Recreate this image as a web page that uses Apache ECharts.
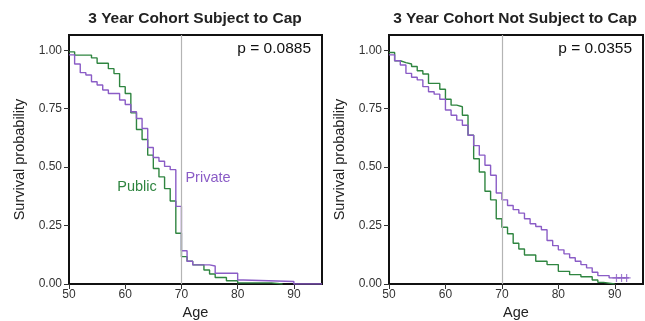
<!DOCTYPE html>
<html lang="en">
  <head>
    <meta charset="utf-8" />
    <title>3 Year Cohort survival</title>
    <script src="https://cdn.jsdelivr.net/npm/echarts@6/dist/echarts.min.js"></script>
  </head>
  <style>
    * {
      margin: 0;
      padding: 0;
    }

    body {
      width: 645px;
      height: 321px;
      background: #fff;
    }

    #main {
      width: 645px;
      height: 321px;
    }
  </style>
  <body>
    <div id="main"></div>
    <script>
      // subject to cap
      const capPublicAge = [50, 51, 54, 55, 57, 58, 59, 60, 61, 62, 63, 64, 65, 66, 67, 68, 69, 70, 71, 72, 74, 75, 76, 78, 80, 86];
      const capPublicSurv = [0.993, 0.979, 0.967, 0.944, 0.921, 0.9, 0.844, 0.815, 0.732, 0.661, 0.618, 0.551, 0.494, 0.458, 0.408, 0.355, 0.217, 0.117, 0.097, 0.082, 0.06, 0.043, 0.028, 0.014, 0.005, 0];
      const capPublicEnd = 88;
      const capPrivateAge = [50, 51, 52, 53, 54, 55, 56, 57, 59, 60, 61, 62, 63, 64, 65, 66, 67, 68, 69, 70, 71, 72, 75, 76, 80, 81, 90];
      const capPrivateSurv = [0.98, 0.941, 0.904, 0.894, 0.865, 0.851, 0.83, 0.815, 0.787, 0.768, 0.737, 0.708, 0.665, 0.584, 0.541, 0.525, 0.503, 0.489, 0.332, 0.142, 0.097, 0.082, 0.077, 0.046, 0.017, 0.011, 0];
      const capPrivateEnd = 95;

      // not subject to cap
      const noCapPublicAge = [50, 51, 52, 53, 54, 55, 56, 57, 59, 60, 61, 62, 63, 64, 65, 66, 67, 68, 69, 70, 71, 72, 73, 74, 76, 78, 80, 82, 84, 86, 87, 88];
      const noCapPublicSurv = [0.99, 0.955, 0.947, 0.941, 0.93, 0.912, 0.898, 0.858, 0.833, 0.79, 0.765, 0.758, 0.722, 0.636, 0.536, 0.479, 0.397, 0.36, 0.279, 0.243, 0.215, 0.174, 0.15, 0.124, 0.097, 0.083, 0.054, 0.04, 0.031, 0.017, 0.007, 0];
      const noCapPublicEnd = 90;
      const noCapPrivateAge = [50, 51, 52, 53, 54, 55, 56, 57, 58, 59, 60, 61, 62, 63, 64, 65, 66, 67, 68, 69, 70, 71, 72, 73, 74, 75, 76, 77, 78, 79, 80, 81, 82, 83, 84, 85, 86, 87, 89];
      const noCapPrivateSurv = [0.98, 0.955, 0.937, 0.901, 0.884, 0.873, 0.844, 0.822, 0.812, 0.79, 0.744, 0.722, 0.701, 0.679, 0.636, 0.592, 0.551, 0.508, 0.465, 0.389, 0.36, 0.336, 0.318, 0.303, 0.279, 0.258, 0.246, 0.232, 0.186, 0.164, 0.146, 0.129, 0.112, 0.097, 0.083, 0.069, 0.05, 0.036, 0.026];
      const noCapPrivateEnd = 92.5;
      const noCapCensorAge = [90.3, 91.2, 92.1];

      const titles = ["3 Year Cohort Subject to Cap", "3 Year Cohort Not Subject to Cap"];
      const pValues = ["p = 0.0885", "p = 0.0355"];
      const xTicks = [50, 60, 70, 80, 90];
      const yTicks = [0, 0.25, 0.5, 0.75, 1];

      const GREEN = "#2f8540";
      const PURPLE = "#8a5cc6";
      const FONT = "Liberation Sans";

      function toSteps(ages, surv, endAge) {
        const pts = ages.map((a, i) => [a, surv[i]]);
        pts.push([endAge, surv[surv.length - 1]]);
        return pts;
      }

      const chart = echarts.init(document.getElementById("main"));

      const grids = [
        { left: 69, top: 35, width: 253, height: 249 },
        { left: 389, top: 35, width: 254, height: 249 },
      ].map((g) => ({
        ...g,
        show: true,
        outerBoundsMode: "none",
        containLabel: false,
        borderColor: "#111",
        borderWidth: 2,
        backgroundColor: "#fff",
      }));

      const xAxes = [0, 1].map((i) => ({
        type: "value",
        gridIndex: i,
        min: 50,
        max: 95,
        interval: 10,
        name: "Age",
        nameLocation: "middle",
        nameGap: 19,
        nameTextStyle: { fontFamily: FONT, fontSize: 14.5, color: "#222" },
        axisLine: { show: false },
        axisTick: { show: true, length: 5, lineStyle: { color: "#333" } },
        axisLabel: {
          fontFamily: FONT,
          fontSize: 12,
          color: "#333",
          margin: 5,
          showMaxLabel: false,
          formatter: (v) => (xTicks.includes(v) ? String(v) : ""),
        },
        splitLine: { show: false },
      }));

      const yAxes = [0, 1].map((i) => ({
        type: "value",
        gridIndex: i,
        min: 0,
        max: 1.065,
        interval: 0.25,
        name: "Survival probability",
        nameLocation: "middle",
        nameGap: 42,
        nameTextStyle: { fontFamily: FONT, fontSize: 14.5, color: "#222" },
        axisLine: { show: false },
        axisTick: { show: true, length: 5, lineStyle: { color: "#333" } },
        axisLabel: {
          fontFamily: FONT,
          fontSize: 12,
          color: "#333",
          margin: 7,
          showMaxLabel: false,
          formatter: (v) => (yTicks.includes(v) ? v.toFixed(2) : ""),
        },
        splitLine: { show: false },
      }));

      function stepSeries(idx, data, color, withRef) {
        const s = {
          type: "line",
          xAxisIndex: idx,
          yAxisIndex: idx,
          step: "end",
          data: data,
          showSymbol: false,
          symbol: "none",
          lineStyle: { color: color, width: 1.4 },
          itemStyle: { color: color },
          animation: false,
          silent: true,
        };
        if (withRef) {
          s.markLine = {
            silent: true,
            symbol: "none",
            label: { show: false },
            lineStyle: { color: "#b4b4b4", width: 1.2, type: "solid" },
            data: [{ xAxis: 70 }],
          };
        }
        return s;
      }

      const series = [
        stepSeries(0, toSteps(capPublicAge, capPublicSurv, capPublicEnd), GREEN, true),
        stepSeries(0, toSteps(capPrivateAge, capPrivateSurv, capPrivateEnd), PURPLE, false),
        stepSeries(1, toSteps(noCapPublicAge, noCapPublicSurv, noCapPublicEnd), GREEN, true),
        stepSeries(1, toSteps(noCapPrivateAge, noCapPrivateSurv, noCapPrivateEnd), PURPLE, false),
        {
          type: "scatter",
          xAxisIndex: 1,
          yAxisIndex: 1,
          data: noCapCensorAge.map((a) => [a, noCapPrivateSurv[noCapPrivateSurv.length - 1]]),
          symbol: "path://M5,0L5,10M0,5L10,5",
          symbolSize: 8,
          itemStyle: { color: "none", borderColor: PURPLE, borderWidth: 1.2 },
          animation: false,
          silent: true,
        },
      ];

      const textStyle = (x, y, text, opts) => ({
        type: "text",
        x: x,
        y: y,
        silent: true,
        style: Object.assign(
          {
            text: text,
            fontFamily: FONT,
            fontSize: 13,
            fill: "#222",
            align: "center",
            verticalAlign: "middle",
          },
          opts || {}
        ),
      });

      const graphic = [
        textStyle(195, 19, titles[0], { fontWeight: "bold", fontSize: 15.5 }),
        textStyle(515, 19, titles[1], { fontWeight: "bold", fontSize: 15.5 }),
        textStyle(311, 49, pValues[0], { align: "right", fontSize: 15.5, fill: "#111" }),
        textStyle(632, 49, pValues[1], { align: "right", fontSize: 15.5, fill: "#111" }),
        textStyle(137, 187, "Public", { fill: GREEN, fontSize: 14.5 }),
        textStyle(208, 178, "Private", { fill: PURPLE, fontSize: 14.5 }),
      ];

      chart.setOption({
        animation: false,
        grid: grids,
        xAxis: xAxes,
        yAxis: yAxes,
        series: series,
        graphic: graphic,
      });
    </script>
  </body>
</html>
